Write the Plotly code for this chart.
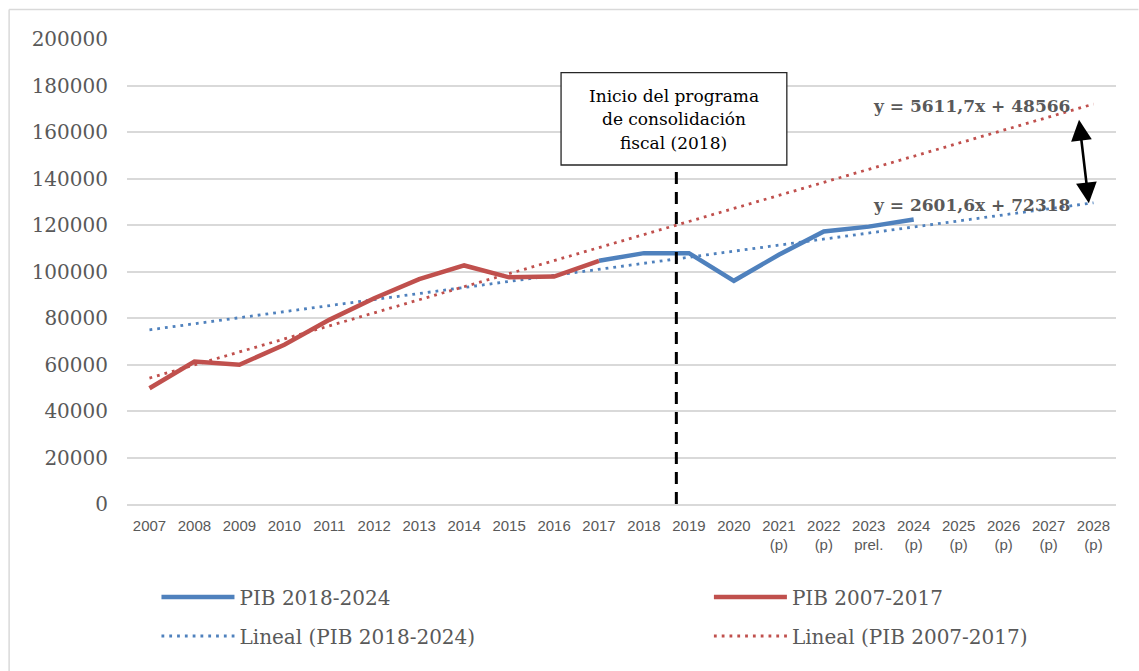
import plotly.graph_objects as go

# ---- data ----
years = ["2007", "2008", "2009", "2010", "2011", "2012", "2013", "2014", "2015", "2016",
         "2017", "2018", "2019", "2020", "2021<br>(p)", "2022<br>(p)", "2023<br>prel.",
         "2024<br>(p)", "2025<br>(p)", "2026<br>(p)", "2027<br>(p)", "2028<br>(p)"]
pib_2007_2017 = [49800, 61300, 59900, 68500, 79200, 88500, 96700, 102600, 97500, 97800, 104600]
pib_2018_2024 = [104600, 107900, 107900, 96000, 107200, 117200, 119300, 122400]  # 2017..2024
blue_start = 10          # index of 2017
trend_blue = (2601.6, 72318)   # slope, intercept (x = 1..22)
trend_red = (5611.7, 48566)
eq_blue = "y = 2601,6x + 72318"
eq_red = "y = 5611,7x + 48566"
y_ticks = [0, 20000, 40000, 60000, 80000, 100000, 120000, 140000, 160000, 180000, 200000]
program_start_pos = 11.72   # position of the "2018" program start marker on the category axis
box_text = ["Inicio del programa", "de consolidación", "fiscal (2018)"]

BLUE = "#4F81BD"
RED = "#C0504D"
GRID = "#D9D9D9"
TXT = "#595959"

W, H = 1139, 671
L, R, T, B = 126.5, 1116.5, 39, 504


def px(x):
    return (x - L) / (R - L)


def py(y):
    return (B - y) / (B - T)


idx = list(range(len(years)))
n = len(years)

fig = go.Figure()
fig.add_trace(go.Scatter(
    x=[idx[0], idx[-1]], y=[trend_blue[0] * 1 + trend_blue[1], trend_blue[0] * n + trend_blue[1]],
    mode="lines", name="Lineal (PIB 2018-2024)",
    line=dict(color=BLUE, width=2.8, dash="2.8px,5px"), legend="legend3"))
fig.add_trace(go.Scatter(
    x=[idx[0], idx[-1]], y=[trend_red[0] * 1 + trend_red[1], trend_red[0] * n + trend_red[1]],
    mode="lines", name="Lineal (PIB 2007-2017)",
    line=dict(color=RED, width=2.8, dash="2.8px,5px"), legend="legend4"))
fig.add_trace(go.Scatter(
    x=idx[blue_start:blue_start + len(pib_2018_2024)], y=pib_2018_2024, mode="lines",
    name="PIB 2018-2024", line=dict(color=BLUE, width=4.5), legend="legend"))
fig.add_trace(go.Scatter(
    x=idx[:len(pib_2007_2017)], y=pib_2007_2017, mode="lines",
    name="PIB 2007-2017", line=dict(color=RED, width=4.5), legend="legend2"))

box_bottom_val = (B - 165) / (B - T) * 200000

shapes = [
    dict(type="line", xref="x", yref="y", x0=program_start_pos, x1=program_start_pos,
         y0=0, y1=box_bottom_val, line=dict(color="black", width=3, dash="12px,8px"), layer="above"),
    dict(type="rect", xref="paper", yref="paper", x0=px(561), x1=px(787), y0=py(165), y1=py(72.7),
         line=dict(color="#262626", width=1.3), fillcolor="white", layer="above"),
    dict(type="line", xref="paper", yref="paper", x0=px(8.5), x1=px(8.5), y0=py(671), y1=py(9.5),
         line=dict(color=GRID, width=1.5)),
    dict(type="line", xref="paper", yref="paper", x0=px(8.5), x1=px(1139), y0=py(9.5), y1=py(9.5),
         line=dict(color=GRID, width=1.5)),
]

annotations = []
for t, yy in zip(box_text, [96, 119.5, 143]):
    annotations.append(dict(xref="paper", yref="paper", x=px(674), y=py(yy), text=t, showarrow=False,
                            xanchor="center", yanchor="middle",
                            font=dict(family="DejaVu Serif", size=17, color="black")))
annotations.append(dict(xref="paper", yref="paper", x=px(971.5), y=py(106), text="<b>" + eq_red + "</b>",
                        showarrow=False, xanchor="center", yanchor="middle",
                        font=dict(family="DejaVu Serif", size=17, color=TXT)))
annotations.append(dict(xref="paper", yref="paper", x=px(971.5), y=py(205), text="<b>" + eq_blue + "</b>",
                        showarrow=False, xanchor="center", yanchor="middle",
                        font=dict(family="DejaVu Serif", size=17, color=TXT)))
annotations.append(dict(xref="paper", yref="paper", x=px(1089.3), y=py(203.3),
                        axref="pixel", ayref="pixel", ax=-10, ay=-85,
                        text="", showarrow=True, arrowhead=2, startarrowhead=2, arrowside="end+start",
                        arrowsize=1.6, startarrowsize=1.6, arrowwidth=2.6, arrowcolor="black"))


def leg(xp, yp):
    return dict(orientation="h", x=px(xp), y=py(yp), xanchor="left", yanchor="middle",
                font=dict(family="DejaVu Serif", size=20, color=TXT),
                itemwidth=73, bgcolor="rgba(0,0,0,0)", borderwidth=0)


fig.update_layout(
    width=W, height=H,
    margin=dict(l=L, r=W - R, t=T, b=H - B, pad=0),
    paper_bgcolor="white", plot_bgcolor="white",
    showlegend=True,
    shapes=shapes, annotations=annotations,
    xaxis=dict(range=[-0.5, n - 0.5], tickmode="array", tickvals=idx, ticktext=years,
               showgrid=False, zeroline=False, showline=True, linecolor=GRID, linewidth=1.5,
               ticks="", ticklabelstandoff=7,
               tickfont=dict(family="Liberation Sans", size=15, color=TXT), fixedrange=True),
    yaxis=dict(range=[0, 200000], tickmode="array", tickvals=y_ticks,
               ticktext=[str(v) for v in y_ticks],
               showgrid=True, gridcolor=GRID, gridwidth=1.5, zeroline=False, showline=False,
               ticks="", ticklabelstandoff=18,
               tickfont=dict(family="DejaVu Serif", size=20, color=TXT), fixedrange=True),
    legend=leg(156, 597),
    legend2=leg(709, 597),
    legend3=leg(156, 636),
    legend4=leg(709, 636),
)

fig.write_html("out.html")
